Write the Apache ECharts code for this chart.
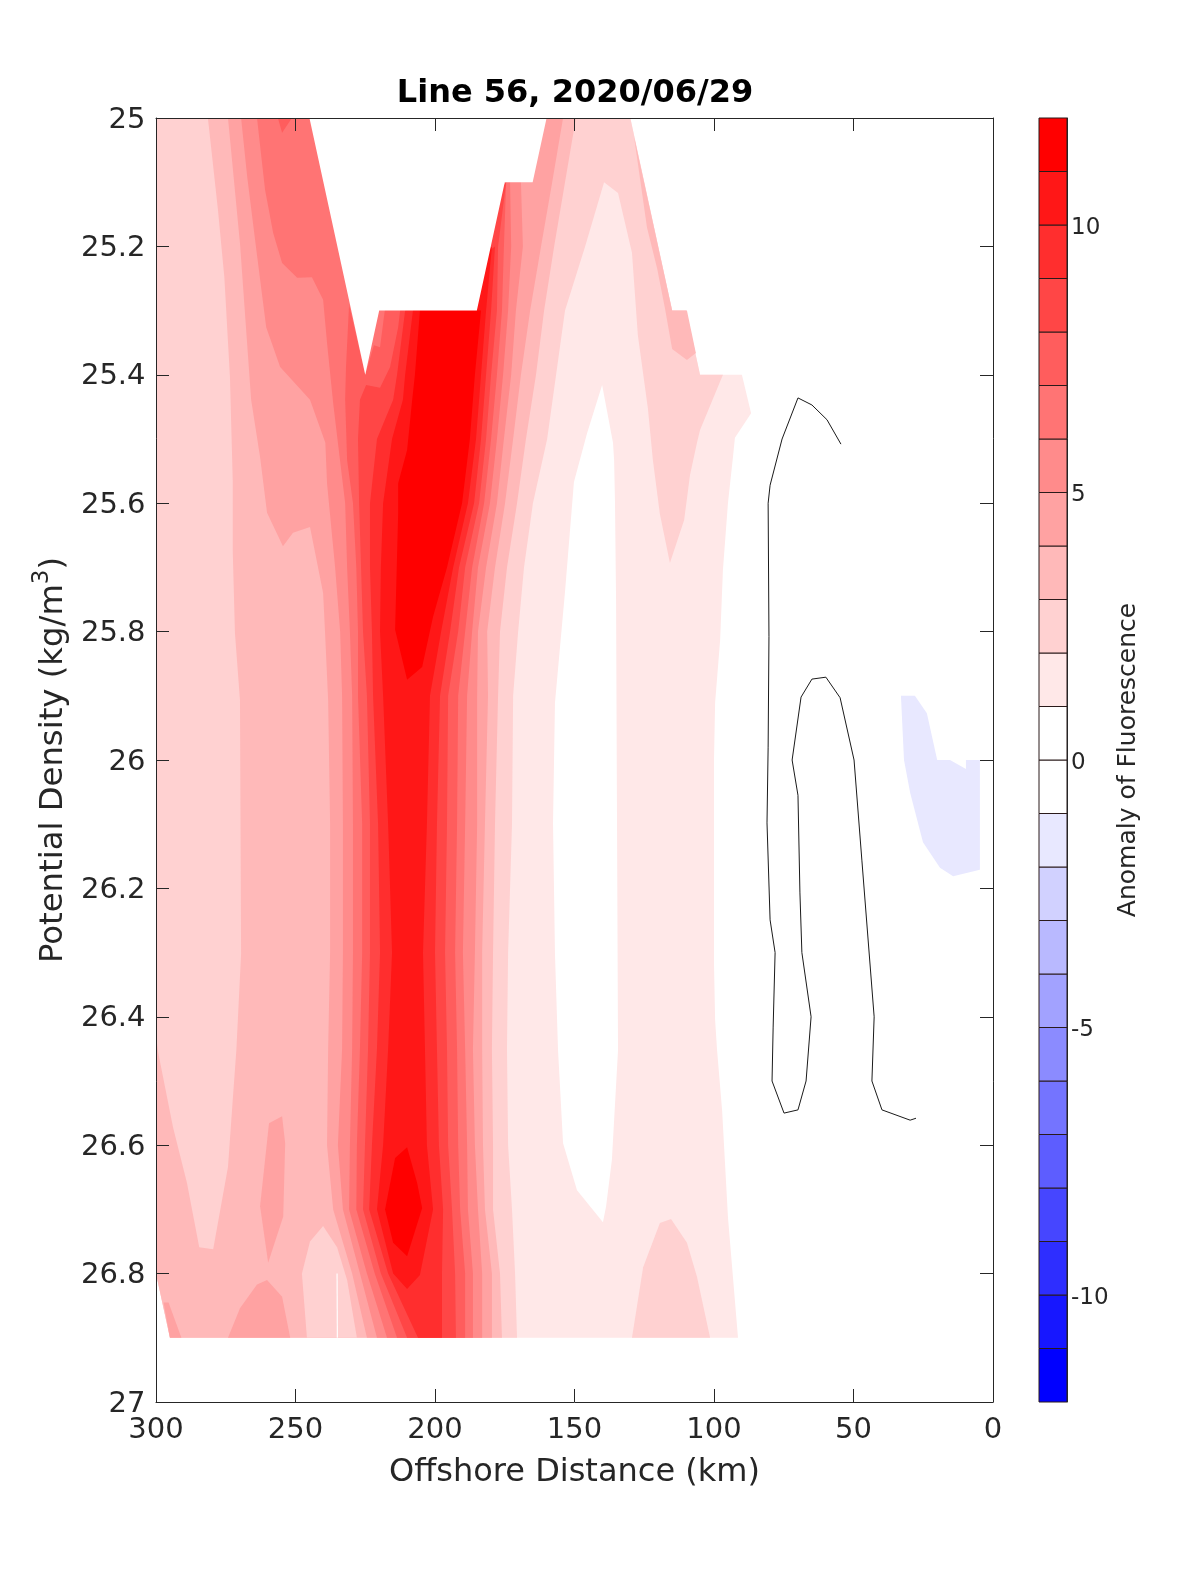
<!DOCTYPE html>
<html><head><meta charset="utf-8">
<style>html,body{margin:0;padding:0;background:#fff}#c{width:1200px;height:1575px}</style>
<script src="https://cdn.jsdelivr.net/npm/echarts@6/dist/echarts.min.js"></script>
</head><body><div id="c"></div>
<script>
// All contours are [offshore distance km, potential density kg/m3].
const colorbarLevels = [-12,-11,-10,-9,-8,-7,-6,-5,-4,-3,-2,-1,0,1,2,3,4,5,6,7,8,9,10,11];
const xTicks = [0,50,100,150,200,250,300];

const level1Area = [[300,25],[130,25],[115,25.3],[110,25.3],[105,25.4],[90,25.4],[86.7,25.46],[92.5,25.498],[93.2,25.528],[95,25.6],[96.8,25.704],[97.8,25.813],[99.6,25.911],[100,26],[100,26.318],[99.6,26.405],[98.9,26.452],[97.1,26.545],[95,26.712],[91.4,26.9],[295,26.9],[300,26.8]];
const belowLevel1Hole = [[140.1,25.416],[145.5,25.491],[150.2,25.567],[153.4,25.738],[157,25.911],[157.7,26.098],[157,26.302],[155.9,26.452],[154.1,26.597],[149.1,26.67],[139.8,26.72],[138.7,26.696],[136.6,26.623],[134.4,26.452],[134.8,26.062],[135.1,25.751],[135.5,25.595],[135.8,25.533],[136.2,25.506]];
const level2Area = [[300,25],[300,26.8],[295,26.9],[170.6,26.9],[171.3,26.8],[172.4,26.7],[173.8,26.6],[174.2,26.45],[173.8,26.3],[172.4,26.1],[172,25.9],[170.2,25.8],[168.1,25.7],[164.9,25.6],[159.8,25.5],[156.6,25.4],[153.4,25.3],[146.2,25.2],[139.4,25.1],[134.4,25.117],[129.4,25.21],[127.3,25.338],[123.7,25.452],[121.9,25.533],[119.4,25.617],[115.8,25.693],[110.7,25.626],[108.6,25.556],[106.1,25.506],[105,25.486],[96.8,25.4],[105,25.4],[110,25.3],[115,25.3],[130,25]];
const level2BottomPatch = [[119.4,26.721],[115.4,26.715],[109.7,26.752],[106.1,26.805],[101.4,26.9],[129.4,26.9],[125.4,26.79]];
const level3Area = [[281.4,25],[277.8,25.143],[275.5,25.248],[273.5,25.403],[272.5,25.564],[272.5,25.673],[271.7,25.802],[269.9,25.907],[269.5,26.302],[271.2,26.452],[272.5,26.53],[274.2,26.634],[279.5,26.762],[284.5,26.759],[288.9,26.659],[293.9,26.572],[299.2,26.456],[300,26.43],[300,26.8],[295,26.9],[176,26.9],[176.7,26.8],[179.2,26.7],[179.2,26.6],[179.6,26.45],[179.2,26.3],[178.5,26.1],[177.4,25.9],[176.7,25.8],[174.2,25.7],[170.6,25.6],[167.4,25.5],[163.8,25.4],[160.9,25.3],[157.3,25.2],[153.4,25.1],[149.5,25]];
const level3TopRightPatch = [[128.6,25.03],[128.3,25.04],[124,25.171],[120.4,25.234],[117.6,25.296],[115,25.36],[109.7,25.377],[106.5,25.366],[109.7,25.3],[115,25.3]];
const level2CentrePatch = [[245.9,26.9],[247.7,26.8],[244.8,26.75],[240.1,26.726],[235.1,26.759],[231.5,26.81],[228,26.9]];
const whiteSliver = [[235.3,26.8],[234.9,26.8],[234.8,26.9],[235.2,26.9]];
const level4Area = [[274.2,25],[269.9,25.195],[265.9,25.439],[262.7,25.528],[260.2,25.615],[254.5,25.667],[250.9,25.646],[244.8,25.637],[240.1,25.74],[239.4,25.802],[238.3,25.907],[237.6,26.1],[237.6,26.3],[238.3,26.45],[238.7,26.6],[236.5,26.7],[229.7,26.8],[224.4,26.9],[179.6,26.9],[179.6,26.8],[182.1,26.7],[182.8,26.6],[183.1,26.45],[183.1,26.3],[182.1,26.1],[181,25.9],[181.3,25.8],[178.5,25.7],[174.9,25.6],[172,25.5],[169.2,25.4],[165.9,25.3],[162,25.2],[158,25.1],[154.1,25]];
const level4MidPatch = [[254.8,26.555],[259.5,26.566],[262.7,26.695],[259.8,26.783],[254.4,26.711],[253.7,26.597]];
const level4BottomPatch = [[274.2,26.9],[269.9,26.854],[263.8,26.817],[260.2,26.81],[254.8,26.836],[251.9,26.9]];
const level4CornerPatch = [[297.3,26.845],[295.5,26.845],[290.9,26.9],[295,26.9]];
const level5Area = [[269.5,25],[267.3,25.092],[263.7,25.217],[260.5,25.326],[255.5,25.388],[244.8,25.439],[239.3,25.506],[238.7,25.569],[235.8,25.7],[234,25.8],[233.3,25.9],[233,26.1],[233,26.3],[233.3,26.45],[234.8,26.6],[233,26.7],[226.9,26.8],[220.8,26.9],[183.1,26.9],[183.1,26.8],[184.6,26.7],[185.7,26.6],[186.4,26.45],[185.7,26.3],[184.9,26.1],[184.9,25.9],[184.6,25.8],[181.7,25.7],[177.8,25.6],[175.3,25.5],[172.7,25.4],[171,25.3],[168.5,25.2],[169.2,25.1],[241.2,25]];
const level6Area = [[263.8,25],[260.9,25.112],[258,25.179],[254.8,25.226],[249.4,25.249],[244.1,25.248],[240.1,25.283],[238.7,25.35],[236.5,25.444],[234.8,25.506],[232.2,25.6],[231.5,25.7],[230.5,25.8],[229.7,25.9],[229.4,26.1],[229.4,26.3],[229.7,26.45],[230.5,26.6],[230.8,26.7],[224.4,26.8],[217.2,26.9],[186.4,26.9],[186.4,26.8],[188.2,26.7],[188.5,26.6],[189.2,26.45],[190,26.3],[189.2,26.1],[188.5,25.9],[186.7,25.8],[184.6,25.7],[180.3,25.6],[177.8,25.5],[175.6,25.4],[173.8,25.3],[172.7,25.2],[173.1,25.1],[241.2,25]];
const level7Area = [[218,25.3],[219.7,25.357],[221.9,25.354],[225,25.4],[230.8,25.291],[231.9,25.388],[232.2,25.439],[231.5,25.533],[229.4,25.6],[228.2,25.7],[227.6,25.8],[227.6,25.9],[226.1,26.1],[226.1,26.3],[226.9,26.45],[228,26.6],[228.2,26.7],[221.6,26.8],[213.6,26.9],[189.2,26.9],[189.2,26.8],[191,26.7],[191.7,26.6],[192.1,26.45],[192.8,26.3],[192.1,26.1],[191.7,25.9],[189.2,25.8],[186.7,25.7],[182.4,25.6],[179.9,25.5],[177.8,25.4],[176,25.3],[175.3,25.2],[174.5,25.1]];
const level7TopPatch = [[256.3,25],[251.3,25],[254.8,25.023]];
const level8Area = [[212.5,25.3],[213.2,25.326],[216.1,25.388],[219.7,25.42],[224.7,25.416],[226.9,25.439],[227.6,25.5],[227.2,25.6],[226.5,25.7],[225.8,25.8],[224.4,25.9],[223.3,26.1],[223.3,26.3],[224,26.45],[225.1,26.6],[225.8,26.7],[219.4,26.8],[210,26.9],[192.5,26.9],[192.8,26.8],[193.9,26.7],[195.3,26.6],[195.7,26.45],[196.4,26.3],[195.7,26.1],[195.3,25.9],[191.7,25.8],[189.2,25.7],[184.2,25.6],[181.7,25.5],[179.9,25.4],[177.8,25.3],[177.4,25.2],[174.5,25.1]];
const level9Area = [[210.7,25.3],[213.6,25.4],[215,25.439],[220.8,25.5],[223.3,25.6],[223.3,25.7],[222.6,25.8],[222.2,25.9],[220.4,26.1],[219.7,26.3],[220.8,26.45],[222.6,26.6],[223.6,26.7],[216.8,26.8],[206.1,26.9],[197.5,26.9],[197.5,26.8],[197.1,26.7],[198.6,26.6],[199.3,26.45],[200,26.3],[199.3,26.1],[198.2,25.9],[194.6,25.8],[191.4,25.7],[186,25.6],[183.5,25.5],[181.7,25.4],[179.9,25.3],[178.5,25.2]];
const level10Area = [[207.9,25.3],[210.7,25.4],[211.5,25.439],[215.4,25.5],[218.6,25.6],[219.4,25.7],[219.7,25.8],[218.6,25.9],[216.8,26.1],[215.4,26.3],[216.8,26.45],[218.6,26.6],[220.8,26.7],[215,26.8],[210,26.824],[205.4,26.802],[200.7,26.7],[202.9,26.6],[203.6,26.45],[204.3,26.3],[202.9,26.1],[201.8,25.9],[197.8,25.8],[193.5,25.7],[188.2,25.6],[185.3,25.5],[183.5,25.4],[181.7,25.3],[179.6,25.2]];
const level11Upper = [[205.4,25.3],[207.2,25.4],[208.2,25.44],[210,25.517],[213.2,25.569],[213.2,25.615],[214.3,25.797],[210,25.875],[204.6,25.855],[200.7,25.777],[195.7,25.7],[190.3,25.6],[187.5,25.5],[185.7,25.4],[183.5,25.3]];
const level11Lower = [[210,26.603],[214.3,26.62],[217.9,26.7],[215,26.752],[210,26.773],[204.6,26.698],[206.4,26.659]];
const noDataNotch = [[245,25],[225,25.4],[220,25.3],[185,25.3],[175,25.1],[165,25.1],[160,25]];
const levelMinus2Patch = [[33,25.9],[28,25.9],[23.7,25.927],[20,26],[15.4,26],[9.7,26.014],[9.7,26],[4.7,26],[4.7,26.171],[14.3,26.181],[19,26.168],[25.1,26.128],[29.7,26.051],[31.9,26]];
const blackContour = [[54.5,25.508],[59.5,25.47],[64.9,25.447],[69.9,25.436],[75.6,25.5],[79.9,25.572],[80.6,25.6],[80.3,25.808],[80.6,25.98],[81,26.098],[79.9,26.249],[78.1,26.3],[78.8,26.416],[79.2,26.5],[74.9,26.55],[69.9,26.545],[67,26.5],[65.2,26.4],[68.5,26.3],[69.2,26.207],[69.9,26.055],[72,26],[68.8,25.902],[64.9,25.874],[59.9,25.871],[54.8,25.903],[49.8,26],[47,26.156],[42.6,26.4],[43.4,26.5],[39.8,26.545],[29.7,26.561],[27.6,26.558]];

// Painter's order: [contour, lower level of the band]
const layers = [
  [level1Area,1],[belowLevel1Hole,0],[level2Area,2],[level2BottomPatch,2],
  [level3Area,3],[level3TopRightPatch,3],[level2CentrePatch,2],[whiteSliver,0],
  [level4Area,4],[level4MidPatch,4],[level4BottomPatch,4],[level4CornerPatch,4],
  [level5Area,5],[level6Area,6],[level7Area,7],[level7TopPatch,7],
  [level8Area,8],[level9Area,9],[level10Area,10],[level11Upper,11],[level11Lower,11],
  [noDataNotch,0],[levelMinus2Patch,-2]
];

function bandColor(lo){
  const n = lo>=0 ? lo : -lo-1;
  const h = Math.round(255*(1-n/11)).toString(16).padStart(2,'0');
  return lo>=0 ? '#ff'+h+h : '#'+h+h+'ff';
}

const INK = '#262626';
const FONT = '"DejaVu Sans", sans-serif';
const chart = echarts.init(document.getElementById('c'), null, {renderer:'canvas'});
const axisCommon = {
  z:10, axisLine:{show:true,onZero:false,lineStyle:{color:INK,width:1}},
  axisTick:{show:true,inside:true,length:13,lineStyle:{color:INK,width:1}},
  splitLine:{show:false}
};
chart.setOption({
  animation:false,
  backgroundColor:'#fff',
  title:{text:'Line 56, 2020/06/29',left:570,top:73,textAlign:'center',
    textStyle:{fontFamily:FONT,fontWeight:'bold',fontSize:32,color:'#000'}},
  grid:[
    {left:156,top:118,width:837,height:1284},
    {left:1039,top:118,width:28,height:1284}
  ],
  xAxis:[
    Object.assign({},axisCommon,{type:'value',gridIndex:0,inverse:true,min:0,max:300,interval:50,position:'bottom',
      axisLabel:{fontFamily:FONT,fontSize:29,color:INK,margin:14,showMinLabel:true,showMaxLabel:true},
      name:'Offshore Distance (km)',nameLocation:'middle',nameGap:55,
      nameTextStyle:{fontFamily:FONT,fontSize:32,color:INK}}),
    Object.assign({},axisCommon,{type:'value',gridIndex:0,inverse:true,min:0,max:300,interval:50,position:'top',axisLabel:{show:false}}),
    {type:'value',gridIndex:1,min:0,max:1,show:false}
  ],
  yAxis:[
    Object.assign({},axisCommon,{type:'value',gridIndex:0,inverse:true,min:25,max:27,interval:0.2,position:'left',
      axisLabel:{fontFamily:FONT,fontSize:29,color:INK,margin:10.5,formatter:'{t|{value}}',
        rich:{t:{fontFamily:FONT,fontSize:29,color:INK,padding:[4,0,0,0]}}},
      name:'Potential Density (kg/m{sup|3})',nameLocation:'middle',nameGap:77,nameRotate:90,
      nameTextStyle:{fontFamily:FONT,fontSize:32.3,color:INK,rich:{sup:{fontFamily:FONT,fontSize:23,color:INK,padding:[0,0,24,0]}}}}),
    Object.assign({},axisCommon,{type:'value',gridIndex:0,inverse:true,min:25,max:27,interval:0.2,position:'right',axisLabel:{show:false}}),
    {type:'value',gridIndex:1,min:-12,max:12,interval:5,position:'right',z:10,
      axisLine:{show:true,onZero:false,lineStyle:{color:INK,width:1}},axisTick:{show:false},splitLine:{show:false},
      axisLabel:{fontFamily:FONT,fontSize:23,color:INK,margin:4,customValues:[-10,-5,0,5,10],formatter:'{t|{value}}',
        rich:{t:{fontFamily:FONT,fontSize:23,color:INK,padding:[6,0,0,0]}}},
      name:'Anomaly of Fluorescence',nameLocation:'middle',nameGap:49,nameRotate:90,
      nameTextStyle:{fontFamily:FONT,fontSize:25,color:INK}}
  ],
  series:[
    {type:'custom',name:'Anomaly of Fluorescence',xAxisIndex:0,yAxisIndex:0,z:2,clip:true,silent:true,
      data:layers.map(l=>[l[0][0][0],l[0][0][1],l[1]]),
      encode:{x:0,y:1},
      renderItem(params,api){
        const layer = layers[params.dataIndex];
        return {type:'polygon',shape:{points:layer[0].map(p=>api.coord(p))},
          style:{fill:bandColor(layer[1]),stroke:null}};
      }},
    {type:'line',name:'contour',xAxisIndex:0,yAxisIndex:0,z:3,data:blackContour,showSymbol:false,silent:true,
      lineStyle:{color:'#1a1a1a',width:1}},
    {type:'custom',name:'colorbar',xAxisIndex:2,yAxisIndex:2,z:2,silent:true,
      data:colorbarLevels.map(v=>[0,v]),encode:{x:0,y:1},
      renderItem(params,api){
        const lo = colorbarLevels[params.dataIndex];
        const a = api.coord([0,lo]), b = api.coord([1,lo+1]);
        return {type:'rect',shape:{x:a[0],y:b[1],width:b[0]-a[0],height:a[1]-b[1]},
          style:{fill:bandColor(lo),stroke:'#2a1a1a',lineWidth:1}};
      }}
  ]
});
</script></body></html>
